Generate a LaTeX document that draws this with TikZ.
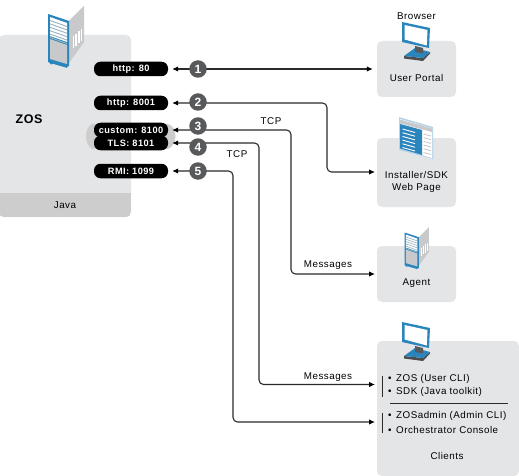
\documentclass[tikz,border=0pt]{standalone}
\usepackage{fontspec}
\setmainfont[LetterSpace=5]{Liberation Sans}
\usetikzlibrary{arrows.meta}
\definecolor{panel}{HTML}{E4E5E7}
\definecolor{strip}{HTML}{CDCDCE}
\definecolor{badge}{HTML}{58595B}
\definecolor{wire}{HTML}{2B2B2B}
\definecolor{iblue}{HTML}{2A85BD}
\definecolor{igrey}{HTML}{C8C9CA}
\tikzset{
 panelbox/.style={fill=panel,rounded corners=5pt,draw=none,minimum width=79pt,inner sep=0pt},
 pill/.style={fill=black,text=white,rounded corners=6.5pt,minimum width=74pt,minimum height=14.5pt,inner sep=0pt,font=\fontsize{9.2}{10}\selectfont\bfseries},
 badgec/.style={circle,fill=badge,text=white,minimum size=17.5pt,inner sep=0pt,font=\fontsize{12}{12}\selectfont\bfseries},
 wirel/.style={draw=wire,line width=1.1pt,rounded corners=4.5pt,shorten <=4pt},
 tips/.style={{Latex[length=6pt,width=5.5pt,black]}-{Latex[length=6pt,width=5.5pt,black]}},
 lbl/.style={font=\fontsize{9.8}{12}\selectfont,text=black,inner sep=0pt,align=center,yshift=-0.8pt},
 llbl/.style={lbl,align=left,anchor=west},
}
\newcommand{\serverpic}[2]{%
 \begin{scope}[shift={#1},scale=#2]
  \fill[igrey] (21,7) -- (36,-8) -- (36,28) -- (21,49) -- cycle;
  \foreach \k in {0,1,2,3}{\fill[white] (24.5+2.7*\k,22.5-2.5*\k) rectangle ++(1.6,12);}
  \fill[iblue] (0,0) -- (21,7) -- (21,52) -- (19,53) -- (19,54) -- (16,53) -- (4,49.5) -- (4,50.5) -- (2,50) -- (2,49) -- (0,48) -- cycle;
  \fill[white] (2,3) -- (19,9) -- (19,28) -- (2,22) -- cycle;
  \foreach \k in {0,1,2,3,4,5}{\fill[iblue!30!igrey] (2,6+3.4*\k) -- (19,12+3.4*\k) -- (19,13+3.4*\k) -- (2,7+3.4*\k) -- cycle;}
  \fill[igrey] (2,25) -- (19,31) -- (19,50) -- (2,45) -- cycle;
 \end{scope}}
\newcommand{\monitorpic}[1]{%
 \begin{scope}[shift={#1}]
  \fill[black!70] (2,34) -- (21,36) -- (21,39) -- (2,36.5) -- cycle;
  \fill[black!70] (21,36) -- (28,30) -- (28,31.5) -- (21,39) -- cycle;
  \fill[iblue] (2,34) -- (13,26) -- (28,30) -- (21,36) -- cycle;
  \fill[badge] (13,24) -- (21,26) -- (21,31.5) -- (13,30) -- cycle;
  \fill[iblue] (0,0) -- (28,6) -- (27,26) -- (0,20) -- cycle;
  \fill[white] (2.5,3) -- (25.5,8) -- (24.8,23.5) -- (2.5,17.5) -- cycle;
 \end{scope}}
\begin{document}
\begin{tikzpicture}[x=1pt,y=-1pt]
\useasboundingbox (0,0) rectangle (519,476);
\fill[white] (0,0) rectangle (519,476);
% ZOS panel
\fill[panel,rounded corners=5pt] (-1,35) rectangle (131,217);
\begin{scope}
 \clip[rounded corners=5pt] (-1,35) rectangle (131,217);
 \fill[strip] (-1,193) rectangle (131,217);
\end{scope}
\serverpic{(48,14)}{1}
\node[lbl,font=\fontsize{12.5}{12}\selectfont\bfseries] (zos) at (29,118.5) {ZOS};
\node[lbl] (java) at (65,204.5) {Java};
% panels
\node[panelbox,minimum height=56pt] (portal) at (416.5,69) {};
\node[panelbox,minimum height=69pt] (install) at (416.5,172.5) {};
\node[panelbox,minimum height=56pt] (agent) at (416.5,274) {};
\node[panelbox,minimum width=142pt,minimum height=135pt] (clients) at (448,408.5) {};
% icons
\monitorpic{(402,22)}
\serverpic{(404.5,232.5)}{0.68}
\begin{scope}[shift={(399,117)}]
 \fill[iblue!35] (0,0) -- (34,10) -- (34,42) -- (0,33) -- cycle;
 \fill[white] (1,2) -- (33,11.5) -- (33,41) -- (1,31.5) -- cycle;
 \fill[igrey] (1,2.5) -- (33,11.5) -- (33,15) -- (1,6.5) -- cycle;
 \fill[iblue] (1,7) -- (23,13) -- (23,38) -- (1,31.5) -- cycle;
 \foreach \k in {0,...,5}{\draw[white,line width=0.9pt] (3.5,12+3.7*\k) -- (16,15.5+3.7*\k);}
 \foreach \k in {0,...,5}{\draw[igrey,line width=0.9pt] (24.5,17+3.7*\k) -- (32,19+3.7*\k);}
\end{scope}
\monitorpic{(402,322)}
% grey halo behind 3/4 pills
\fill[strip] (92,124) .. controls (84,128) and (84,144) .. (92,149) -- (168,149) .. controls (178,145) and (178,127) .. (168,124) -- cycle;
% pills
\node[pill] (p1) at (131,69) {http: 80};
\node[pill] (p2) at (131,103) {http: 8001};
\node[pill] (p3) at (131,130) {custom: 8100};
\node[pill] (p4) at (131,143) {TLS: 8101};
\node[pill] (p5) at (131,171) {RMI: 1099};
% connector free ends
\coordinate (e2) at (375,172);
\coordinate (e3) at (375,274);
\coordinate (e4) at (375,384.5);
\coordinate (e5) at (375,422);
% connectors
\draw[wirel,tips,shorten >=4pt] (p1.east) -- (portal.west);
\draw[wirel,tips] (p2.east) -- (327,103) -- (327,172) -- (e2);
\draw[wirel,tips] (p3.east) -- (291,130) -- (291,274) -- (e3);
\draw[wirel,tips] (p4.east) -- (259,143) -- (259,384.5) -- (e4);
\draw[wirel,tips] (p5.east) -- (233,171) -- (233,422) -- (e5);
% badges
\node[badgec] (b1) at (198,69) {1};
\node[badgec] (b2) at (198,102) {2};
\node[badgec] (b3) at (198,126) {3};
\node[badgec] (b4) at (198,147) {4};
\node[badgec] (b5) at (198,171) {5};
% labels
\node[lbl] at (271,120) {TCP};
\node[lbl] at (237,153) {TCP};
\node[lbl] at (328,264) {Messages};
\node[lbl] at (328,376) {Messages};
\node[lbl] at (416.5,15) {Browser};
\node[lbl] at (416.5,77) {User Portal};
\node[lbl] at (416.5,181) {Installer/SDK\\Web Page};
\node[lbl] at (416.5,282) {Agent};
\node[lbl] at (447,455) {Clients};
\node[llbl] at (388,378) {\makebox[8pt][l]{•}ZOS (User CLI)};
\node[llbl] at (388,391) {\makebox[8pt][l]{•}SDK (Java toolkit)};
\node[llbl] at (388,415.5) {\makebox[8pt][l]{•}ZOSadmin (Admin CLI)};
\node[llbl] at (388,429) {\makebox[8pt][l]{•}Orchestrator Console};
\draw[wire,line width=0.6pt] (382,376) -- (382,397);
\draw[wire,line width=0.6pt] (382,413) -- (382,433);
\draw[wire,line width=0.6pt] (390,403.5) -- (508,403.5);
\end{tikzpicture}
\end{document}
